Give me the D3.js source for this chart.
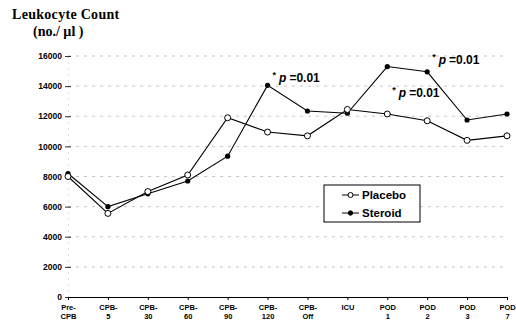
<!DOCTYPE html>
<html>
<head>
<meta charset="utf-8">
<script src="https://cdn.jsdelivr.net/npm/d3@7"></script>
<style>
  body { margin: 0; background: #fff; }
  svg { display: block; }
</style>
</head>
<body>
<div id="chart"></div>
<script>
// time points (two-line tick labels)
var categories = ["Pre-CPB", "CPB-5", "CPB-30", "CPB-60", "CPB-90", "CPB-120", "CPB-Off", "ICU", "POD 1", "POD 2", "POD 3", "POD 7"];
var labelTop = ["Pre-", "CPB-", "CPB-", "CPB-", "CPB-", "CPB-", "CPB-", "ICU", "POD", "POD", "POD", "POD"];
var labelBottom = ["CPB", "5", "30", "60", "90", "120", "Off", "", "1", "2", "3", "7"];

// leukocyte counts (no./ul)
var placebo = [8000, 5550, 7000, 8100, 11900, 10950, 10700, 12450, 12150, 11700, 10400, 10700];
var steroid = [8200, 6000, 6850, 7700, 9350, 14050, 12350, 12200, 15300, 14950, 11750, 12150];

var yTicks = [0, 2000, 4000, 6000, 8000, 10000, 12000, 14000, 16000];

// significance marks: category + value where the label sits
var notes = [
    { cat: "CPB-120", value: 14300 },
    { cat: "POD 2", value: 15500 },
    { cat: "POD 1", value: 13300 }
];

var svgWidth = 516;
var svgHeight = 320;

var svg = d3.select("#chart")
    .append("svg")
    .attr("width", svgWidth)
    .attr("height", svgHeight);

// scales
var xScale = d3.scalePoint()
    .domain(categories)
    .range([68, 507]);

var yScale = d3.scaleLinear()
    .domain([0, 16000])
    .range([297, 56]);

// title
svg.append("text")
    .attr("x", 12)
    .attr("y", 19)
    .style("font-family", "'Liberation Serif', serif")
    .style("font-weight", "bold")
    .style("font-size", "14px")
    .style("letter-spacing", "0.3px")
    .text("Leukocyte Count");

svg.append("text")
    .attr("x", 33)
    .attr("y", 36)
    .style("font-family", "'Liberation Serif', serif")
    .style("font-weight", "bold")
    .style("font-size", "14px")
    .text("(no./ \u00b5l )");

// gridlines
svg.append("g")
    .selectAll("line")
    .data(yTicks.filter(d => d > 0))
    .enter()
    .append("line")
    .attr("x1", xScale.range()[0])
    .attr("x2", xScale.range()[1])
    .attr("y1", d => yScale(d))
    .attr("y2", d => yScale(d))
    .attr("stroke", "#b8b8b8")
    .attr("stroke-width", 0.8)
    .attr("stroke-dasharray", "3,5");

// y axis
var leftAxis = d3.axisLeft(yScale)
    .tickValues(yTicks)
    .tickFormat(d3.format("d"))
    .tickSizeInner(3)
    .tickSizeOuter(0);

var yAxisG = svg.append("g")
    .attr("transform", "translate(68,0)")
    .call(leftAxis);

yAxisG.select(".domain")
    .attr("stroke", "#999")
    .attr("stroke-width", 0.6)
    .attr("stroke-dasharray", "1,5");

yAxisG.selectAll(".tick line")
    .attr("x1", -3)
    .attr("x2", 3)
    .attr("stroke", "#000")
    .attr("stroke-width", 0.8);

yAxisG.selectAll(".tick text")
    .attr("x", -6)
    .style("font-family", "'Liberation Sans', Arial, sans-serif")
    .style("font-weight", "bold")
    .style("font-size", "8.5px")
    .attr("fill", "#000");

// x axis
var bottomAxis = d3.axisBottom(xScale)
    .tickSizeInner(3)
    .tickSizeOuter(0)
    .tickFormat("");

var xAxisG = svg.append("g")
    .attr("transform", "translate(0,297)")
    .call(bottomAxis);

xAxisG.select(".domain")
    .attr("stroke", "#000")
    .attr("stroke-width", 1.2);

xAxisG.selectAll(".tick line")
    .attr("stroke", "#000");

var tickText = xAxisG.selectAll(".tick")
    .append("text")
    .attr("fill", "#000")
    .attr("text-anchor", "middle")
    .style("font-family", "'Liberation Sans', Arial, sans-serif")
    .style("font-weight", "bold")
    .style("font-size", "7.5px");

tickText.append("tspan")
    .attr("x", 0)
    .attr("y", 13)
    .text((d, i) => labelTop[i]);

tickText.append("tspan")
    .attr("x", 0)
    .attr("y", 21.5)
    .text((d, i) => labelBottom[i]);

// series lines
var line = d3.line()
    .x((d, i) => xScale(categories[i]))
    .y(d => yScale(d));

svg.append("path")
    .datum(placebo)
    .attr("d", line)
    .attr("fill", "none")
    .attr("stroke", "#000")
    .attr("stroke-width", 1.1);

svg.append("path")
    .datum(steroid)
    .attr("d", line)
    .attr("fill", "none")
    .attr("stroke", "#000")
    .attr("stroke-width", 1.1);

// markers
svg.append("g")
    .selectAll("circle")
    .data(steroid)
    .enter()
    .append("circle")
    .attr("cx", (d, i) => xScale(categories[i]))
    .attr("cy", d => yScale(d))
    .attr("r", 2.6)
    .attr("fill", "#000");

svg.append("g")
    .selectAll("circle")
    .data(placebo)
    .enter()
    .append("circle")
    .attr("cx", (d, i) => xScale(categories[i]))
    .attr("cy", d => yScale(d))
    .attr("r", 3)
    .attr("fill", "#fff")
    .attr("stroke", "#000")
    .attr("stroke-width", 1);

// p-value notes
var noteG = svg.append("g")
    .selectAll("text")
    .data(notes)
    .enter()
    .append("text")
    .attr("x", d => xScale(d.cat) + 5)
    .attr("y", d => yScale(d.value))
    .style("font-family", "'Liberation Sans', Arial, sans-serif")
    .style("font-weight", "bold")
    .style("font-size", "12px")
    .attr("fill", "#000");

noteG.append("tspan")
    .attr("dy", -4)
    .style("font-size", "9px")
    .text("*");

noteG.append("tspan")
    .attr("dx", 3)
    .attr("dy", 4)
    .style("font-style", "italic")
    .text("p");

noteG.append("tspan")
    .attr("dx", 3)
    .text("=0.01");

// legend
var legend = svg.append("g")
    .attr("transform", "translate(324,185)");

legend.append("rect")
    .attr("width", 96)
    .attr("height", 37)
    .attr("fill", "#fff")
    .attr("stroke", "#000")
    .attr("stroke-width", 1);

var legendItems = [
    { name: "Placebo", open: true },
    { name: "Steroid", open: false }
];

var legendRow = legend.selectAll(".row")
    .data(legendItems)
    .enter()
    .append("g")
    .attr("class", "row")
    .attr("transform", (d, i) => `translate(0, ${10 + i * 18})`);

legendRow.append("line")
    .attr("x1", 18)
    .attr("x2", 35)
    .attr("stroke", "#000")
    .attr("stroke-width", 1);

legendRow.append("circle")
    .attr("cx", 26.5)
    .attr("r", d => d.open ? 2.5 : 2.2)
    .attr("fill", d => d.open ? "#fff" : "#000")
    .attr("stroke", "#000")
    .attr("stroke-width", 1);

legendRow.append("text")
    .attr("x", 38)
    .attr("dy", "0.35em")
    .style("font-family", "'Liberation Sans', Arial, sans-serif")
    .style("font-weight", "bold")
    .style("font-size", "11.5px")
    .text(d => d.name);
</script>
</body>
</html>
